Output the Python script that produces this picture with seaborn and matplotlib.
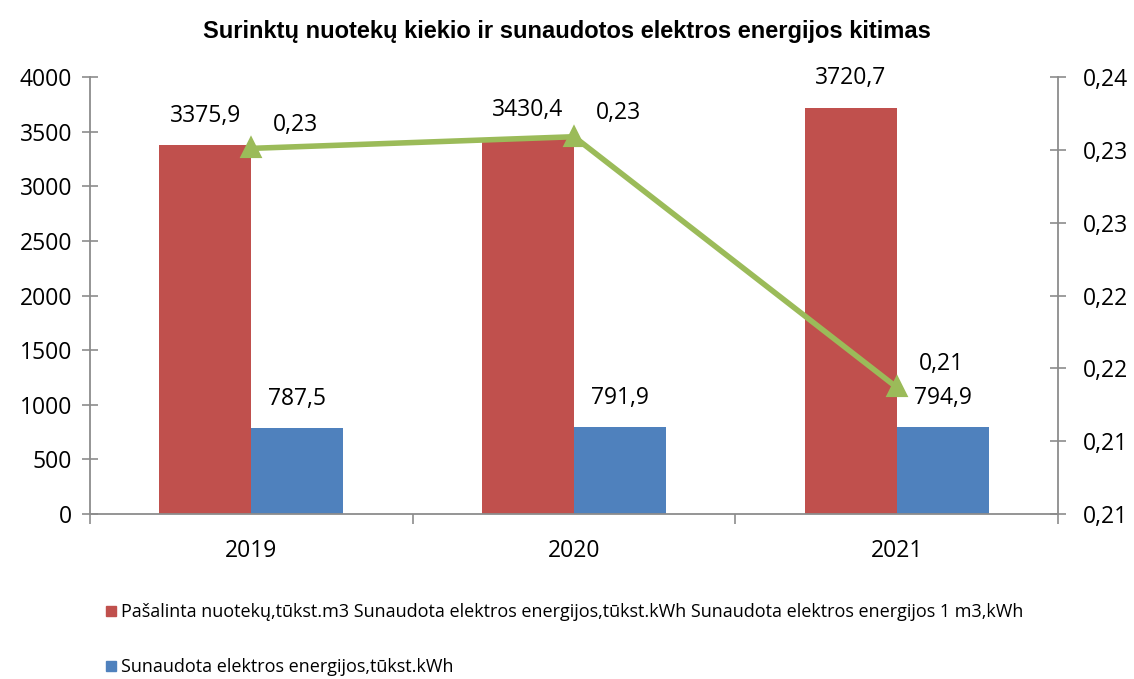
import matplotlib
matplotlib.use("Agg")
import matplotlib.pyplot as plt
import matplotlib.patches as mpatches
from matplotlib.ticker import FixedLocator
import pandas as pd
import seaborn as sns

# Duomenys
years = ["2019", "2020", "2021"]
nuotekos = [3375.9, 3430.4, 3720.7]          # tukst. m3
elektra = [787.5, 791.9, 794.9]              # tukst. kWh
elektra_1m3 = [0.2301, 0.2309, 0.2137]       # kWh / m3 (label rounded 0,23 0,23 0,21)
left_ticks = [0, 500, 1000, 1500, 2000, 2500, 3000, 3500, 4000]
right_ticks = [0.205, 0.21, 0.215, 0.22, 0.225, 0.23, 0.235]
right_tick_labels = ["0,21", "0,21", "0,22", "0,22", "0,23", "0,23", "0,24"]

title = "Surinktų nuotekų kiekio ir sunaudotos elektros energijos kitimas"
lbl_red = "Pašalinta nuotekų,tūkst.m3 Sunaudota elektros energijos,tūkst.kWh Sunaudota elektros energijos 1 m3,kWh"
lbl_blue = "Sunaudota elektros energijos,tūkst.kWh"

red = "#C0504D"
blue = "#4F81BD"
green = "#9BBB59"
axis_gray = "#8C8C8C"

sns.set_theme(style="white")
plt.rcParams["font.family"] = ["Open Sans", "DejaVu Sans"]
plt.rcParams["text.color"] = "black"
plt.rcParams["xtick.labelcolor"] = "black"
plt.rcParams["ytick.labelcolor"] = "black"

df = pd.DataFrame({
    "year": years * 2,
    "value": nuotekos + elektra,
    "series": ["red"] * 3 + ["blue"] * 3,
})

fig = plt.figure(figsize=(11.34, 6.79), dpi=100)
ax = fig.add_axes([0.0794, 0.243, 0.8536, 0.6436])

sns.barplot(data=df, x="year", y="value", hue="series", order=years,
            hue_order=["red", "blue"], palette=[red, blue], width=0.57,
            saturation=1, legend=False, ax=ax, linewidth=0)

ax.set_xlim(-0.5, 2.5)
ax.set_ylim(0, 4000)
ax.yaxis.set_major_locator(FixedLocator(left_ticks))
ax.set_xlabel("")
ax.set_ylabel("")

# bar labels
for cont in ax.containers:
    for bar in cont:
        h = bar.get_height()
        ax.annotate(f"{h:.1f}".replace(".", ","),
                    (bar.get_x() + bar.get_width() / 2, h),
                    xytext=(0, 21), textcoords="offset points",
                    ha="center", va="center", fontsize=16.5, color="black")

ax2 = ax.twinx()
ax2.set_position(ax.get_position())
sns.pointplot(x=years, y=elektra_1m3, ax=ax2, color=green, markers="^",
              markersize=11, linewidth=4)
ax2.set_ylim(0.205, 0.235)
ax2.yaxis.set_major_locator(FixedLocator(right_ticks))
ax2.set_yticklabels(right_tick_labels)
ax2.set_xlim(-0.5, 2.5)
for i, v in enumerate(elektra_1m3):
    ax2.annotate(f"{v:.2f}".replace(".", ","), (i, v), xytext=(32, 17),
                 textcoords="offset points", ha="center", va="center",
                 fontsize=16.5, color="black")

# axes styling
for a in (ax, ax2):
    for s in a.spines.values():
        s.set_visible(False)
ax.spines["left"].set_visible(True)
ax.spines["bottom"].set_visible(True)
ax2.spines["right"].set_visible(True)
for s in (ax.spines["left"], ax.spines["bottom"], ax2.spines["right"]):
    s.set_color(axis_gray)
    s.set_linewidth(1.3)

ax.tick_params(axis="y", direction="inout", length=12, width=1.2, color=axis_gray,
               labelsize=16.5, pad=7, left=True)
ax2.tick_params(axis="y", direction="inout", length=12, width=1.2, color=axis_gray,
                labelsize=16.5, pad=12, right=True)
ax.tick_params(axis="x", which="major", length=0, labelsize=16.5, pad=18)
ax.set_xticks([-0.5, 0.5, 1.5, 2.5], minor=True)
ax.tick_params(axis="x", which="minor", direction="out", length=7, width=1.2,
               color=axis_gray, bottom=True)
ax2.set_xlabel("")
ax2.set_ylabel("")

fig.suptitle(title, x=0.5, y=0.97, fontsize=17, fontweight="bold",
             family=["Liberation Sans", "DejaVu Sans"], color="black")

handles = [mpatches.Patch(color=red, label=lbl_red),
           mpatches.Patch(color=blue, label=lbl_blue)]
fig.legend(handles=handles, loc="upper left", bbox_to_anchor=(0.087, 0.122),
           frameon=False, fontsize=13, handlelength=0.55, handleheight=0.55,
           handletextpad=0.3, labelspacing=2.05, borderaxespad=0)

fig.savefig("out.png", dpi=100, facecolor="white")
